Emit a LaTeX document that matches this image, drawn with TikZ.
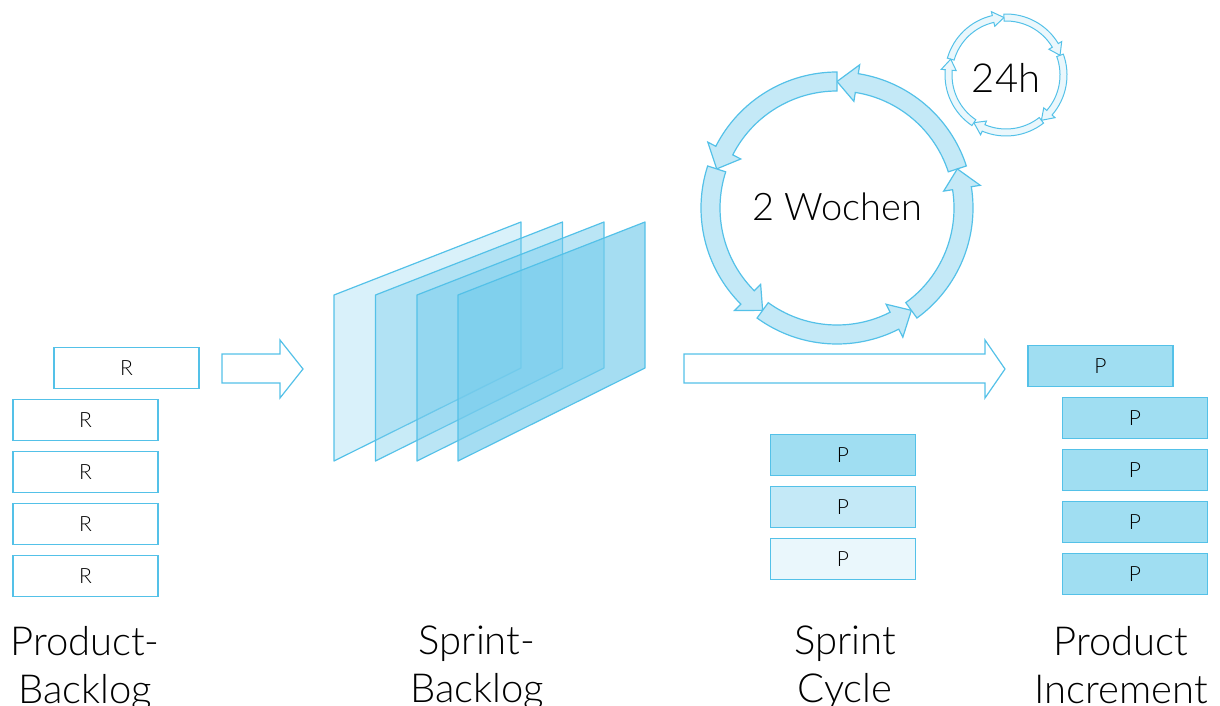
\documentclass[tikz,border=0pt]{standalone}
\usepackage{fontspec}
\setmainfont{Lato}[UprightFont=* Light]
\definecolor{skyline}{RGB}{84,193,232}
\definecolor{skyfill}{RGB}{118,204,236}
\definecolor{pdark}{RGB}{160,222,242}
\definecolor{pmid}{RGB}{196,233,247}
\definecolor{plight}{RGB}{234,247,252}
\tikzset{
  item/.style={draw=skyline, line width=1.2pt, minimum width=145pt, minimum height=41pt,
    inner sep=0pt, font=\fontsize{21}{21}\selectfont},
  plane/.style={draw=skyline, line width=1.2pt, fill=skyfill, line join=round},
  blockarrow/.style={draw=skyline, line width=1.2pt, fill=white, line join=miter},
  bigring/.style={draw=skyline, line width=1.2pt, fill=pmid, line join=miter},
  smallring/.style={draw=skyline, line width=1pt, fill=plight, line join=miter},
  colname/.style={anchor=north, inner sep=0pt, align=center, font=\fontsize{40}{48}\selectfont}
}
% [style]{inner r}{outer r}{flare}{from}{to}{head angle}
\newcommand{\ringarrow}[7][]{%
  \draw[#1] (#5:#3) arc[start angle=#5, end angle={#6-#7}, radius=#3]
    -- ({#6-#7}:{#3+#4}) -- (#6:{(#2+#3)/2}) -- ({#6-#7}:{#2-#4})
    -- ({#6-#7}:#2) arc[start angle={#6-#7}, end angle=#5, radius=#2] -- cycle;}
\begin{document}
\begin{tikzpicture}[x=1pt, y=-1pt]
	\useasboundingbox (0,0) rectangle (1220,706);

	% Product backlog
	\node[item, fill=white] (pb0) at (126.5,368) {R};
	\node[item, fill=white] (pb1) at (85.5,420) {R};
	\node[item, fill=white] (pb2) at (85.5,472) {R};
	\node[item, fill=white] (pb3) at (85.5,524) {R};
	\node[item, fill=white] (pb4) at (85.5,576) {R};
	\draw[blockarrow] (222,354) -- (280,354) -- (280,340) -- (303,369) -- (280,398) -- (280,383) -- (222,383) -- cycle;

	% Sprint backlog
	\draw[plane, fill opacity=0.28] (334,295) -- (521,222) -- (521,368) -- (334,461) -- cycle;
	\draw[plane, fill opacity=0.4, shift={(41.5,0)}] (334,295) -- (521,222) -- (521,368) -- (334,461) -- cycle;
	\draw[plane, fill opacity=0.5, shift={(83,0)}] (334,295) -- (521,222) -- (521,368) -- (334,461) -- cycle;
	\draw[plane, fill opacity=0.66, shift={(124,0)}] (334,295) -- (521,222) -- (521,368) -- (334,461) -- cycle;

	% Sprint cycle
	\begin{scope}[shift={(837,208)}, yscale=-1]
		\ringarrow[bigring]{117}{136}{9}{18}{90}{9}
		\ringarrow[bigring]{117}{136}{9}{90}{162}{9}
		\ringarrow[bigring]{117}{136}{9}{162}{234}{9}
		\ringarrow[bigring]{117}{136}{9}{234}{306}{9}
		\ringarrow[bigring]{117}{136}{9}{306}{378}{9}
	\end{scope}
	\node[font=\fontsize{38}{38}\selectfont] (weeks) at (837,207) {2 Wochen};

	\begin{scope}[shift={(1006,75)}, yscale=-1]
		\ringarrow[smallring]{54}{61}{4}{164}{92}{-11}
		\ringarrow[smallring]{54}{61}{4}{92}{20}{-11}
		\ringarrow[smallring]{54}{61}{4}{20}{-52}{-11}
		\ringarrow[smallring]{54}{61}{4}{-52}{-124}{-11}
		\ringarrow[smallring]{54}{61}{4}{-124}{-196}{-11}
	\end{scope}
	\node[font=\fontsize{40}{40}\selectfont] (day) at (1006,78) {24h};

	\draw[blockarrow] (684,354) -- (985,354) -- (985,340) -- (1005,369) -- (985,398) -- (985,383) -- (684,383) -- cycle;
	\node[item, fill=pdark] (sc1) at (843,455) {P};
	\node[item, fill=pmid] (sc2) at (843,507) {P};
	\node[item, fill=plight] (sc3) at (843,559) {P};

	% Product increment
	\node[item, fill=pdark] (pi0) at (1100.5,366) {P};
	\node[item, fill=pdark] (pi1) at (1135,418) {P};
	\node[item, fill=pdark] (pi2) at (1135,470) {P};
	\node[item, fill=pdark] (pi3) at (1135,522) {P};
	\node[item, fill=pdark] (pi4) at (1135,574) {P};

	% Captions
	\node[colname] (pbname) at (85,626) {Product-\\Backlog};
	\node[colname] (sbname) at (477,626) {Sprint-\\Backlog};
	\node[colname] (scname) at (845,626) {Sprint\\Cycle};
	\node[colname] (piname) at (1121,626) {Product\\Increment};
\end{tikzpicture}
\end{document}
